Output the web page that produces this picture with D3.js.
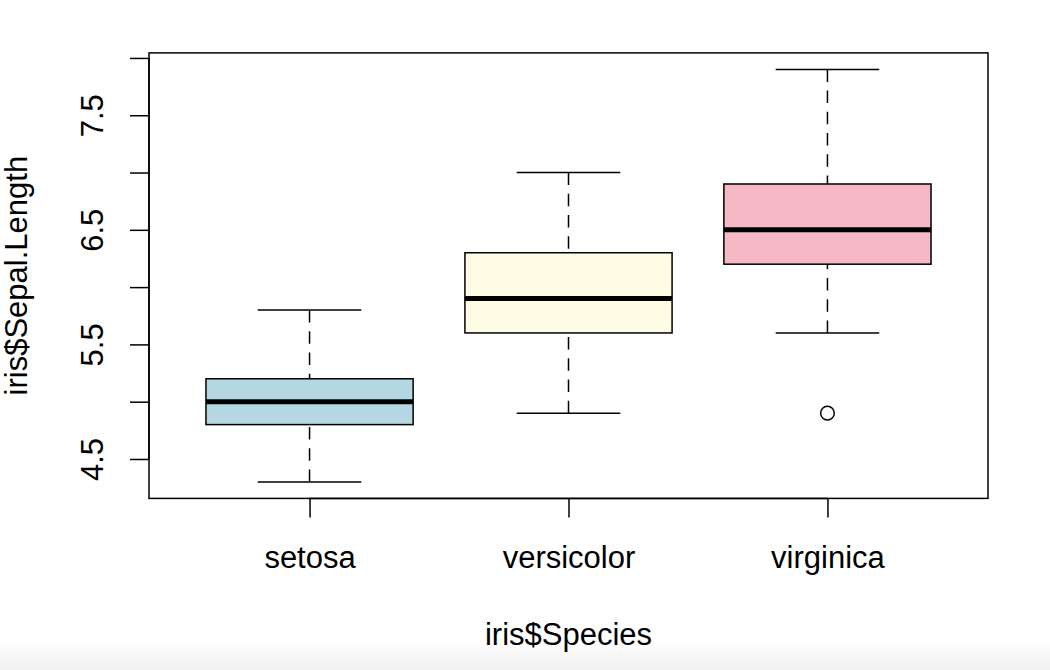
<!DOCTYPE html>
<html>
<head>
<meta charset="utf-8">
<script src="https://cdn.jsdelivr.net/npm/d3@7"></script>
<style>
  html, body { margin: 0; padding: 0; background: #fff; }
  svg { display: block; }
  text { font-family: "Liberation Sans", Arial, Helvetica, sans-serif; fill: #000; }
</style>
</head>
<body>
<svg id="chart" width="1050" height="670"></svg>
<script>
// ---- data (iris Sepal.Length by Species, boxplot stats) ----
const categories = ["setosa", "versicolor", "virginica"];
const lowerWhisker = [4.3, 4.9, 5.6];
const lowerHinge   = [4.8, 5.6, 6.2];
const medians      = [5.0, 5.9, 6.5];
const upperHinge   = [5.2, 6.3, 6.9];
const upperWhisker = [5.8, 7.0, 7.9];
const outliers     = [[], [], [4.9]];
const boxColors    = ["#b4d7e1", "#fffce6", "#f4b9c4"];
const yTicks       = [4.5, 5.0, 5.5, 6.0, 6.5, 7.0, 7.5, 8.0];
const yTickLabels  = ["4.5", "", "5.5", "", "6.5", "", "7.5", ""];
const xTitle = "iris$Species";
const yTitle = "iris$Sepal.Length";

const svg = d3.select("#chart");
const W = 1050, H = 670;

// faint gray band at bottom of the screenshot
const defs = svg.append("defs");
const grad = defs.append("linearGradient").attr("id", "bottomFade")
  .attr("x1", 0).attr("y1", 0).attr("x2", 0).attr("y2", 1);
grad.append("stop").attr("offset", "0%").attr("stop-color", "#ffffff");
grad.append("stop").attr("offset", "100%").attr("stop-color", "#f1f1f1");
svg.append("rect").attr("x", 0).attr("y", 638).attr("width", W).attr("height", 32)
  .attr("fill", "url(#bottomFade)");

const plot = { left: 149, right: 988, top: 52.9, bottom: 498.4 };

// R-style domains: 4% padding
const yMin = d3.min(lowerWhisker.concat(outliers.flat()));
const yMax = d3.max(upperWhisker);
const yPad = (yMax - yMin) * 0.04;
const y = d3.scaleLinear().domain([yMin - yPad, yMax + yPad]).range([plot.bottom, plot.top]);
const xPad = (categories.length) * 0.04;
const x = d3.scaleLinear().domain([0.5 - xPad, categories.length + 0.5 + xPad]).range([plot.left, plot.right]);

const boxHalf = 0.4, capHalf = 0.2;
const lw = 1.5;
const dash = "12.5 8.7";

const g = svg.append("g");

categories.forEach((c, i) => {
  const cx = x(i + 1);
  const bx0 = x(i + 1 - boxHalf), bx1 = x(i + 1 + boxHalf);
  const kx0 = x(i + 1 - capHalf), kx1 = x(i + 1 + capHalf);
  // whiskers (dashed), drawn from whisker end toward hinge as R does
  g.append("line").attr("x1", cx).attr("x2", cx)
    .attr("y1", y(upperWhisker[i])).attr("y2", y(upperHinge[i]))
    .attr("stroke", "#000").attr("stroke-width", lw).attr("stroke-dasharray", dash);
  g.append("line").attr("x1", cx).attr("x2", cx)
    .attr("y1", y(lowerWhisker[i])).attr("y2", y(lowerHinge[i]))
    .attr("stroke", "#000").attr("stroke-width", lw).attr("stroke-dasharray", dash);
  // caps
  g.append("line").attr("x1", kx0).attr("x2", kx1)
    .attr("y1", y(upperWhisker[i])).attr("y2", y(upperWhisker[i]))
    .attr("stroke", "#000").attr("stroke-width", lw);
  g.append("line").attr("x1", kx0).attr("x2", kx1)
    .attr("y1", y(lowerWhisker[i])).attr("y2", y(lowerWhisker[i]))
    .attr("stroke", "#000").attr("stroke-width", lw);
  // box
  g.append("rect").attr("x", bx0).attr("width", bx1 - bx0)
    .attr("y", y(upperHinge[i])).attr("height", y(lowerHinge[i]) - y(upperHinge[i]))
    .attr("fill", boxColors[i]).attr("stroke", "#000").attr("stroke-width", lw);
  // median
  g.append("line").attr("x1", bx0).attr("x2", bx1)
    .attr("y1", y(medians[i])).attr("y2", y(medians[i]))
    .attr("stroke", "#000").attr("stroke-width", 5);
  // outliers
  outliers[i].forEach(v => {
    g.append("circle").attr("cx", cx).attr("cy", y(v)).attr("r", 6.8)
      .attr("fill", "none").attr("stroke", "#000").attr("stroke-width", lw);
  });
});

// plot frame
svg.append("rect").attr("x", plot.left).attr("y", plot.top)
  .attr("width", plot.right - plot.left).attr("height", plot.bottom - plot.top)
  .attr("fill", "none").attr("stroke", "#000").attr("stroke-width", lw);

const fontSize = 31;

// y axis
const yAxis = d3.axisLeft(y).tickValues(yTicks).tickSize(19).tickSizeOuter(0)
  .tickFormat((d, i) => yTickLabels[i]);
const ya = svg.append("g").attr("transform", `translate(${plot.left},0)`).call(yAxis);
ya.select(".domain").attr("d", `M0,${y(yTicks[0])}V${y(yTicks[yTicks.length - 1])}`)
  .attr("stroke", "#000").attr("stroke-width", lw);
ya.selectAll(".tick line").attr("stroke", "#000").attr("stroke-width", lw);
ya.selectAll(".tick text")
  .attr("x", null).attr("dy", null)
  .attr("transform", "translate(-46,0) rotate(-90)")
  .attr("text-anchor", "middle")
  .style("font-size", fontSize + "px")
  .style("font-family", '"Liberation Sans", Arial, Helvetica, sans-serif');

// x axis
const xAxis = d3.axisBottom(x).tickValues(categories.map((c, i) => i + 1))
  .tickSize(19).tickSizeOuter(0).tickFormat((d) => categories[d - 1]);
const xa = svg.append("g").attr("transform", `translate(0,${plot.bottom})`).call(xAxis);
xa.select(".domain").attr("d", `M${x(1)},0H${x(categories.length)}`)
  .attr("stroke", "#000").attr("stroke-width", lw);
xa.selectAll(".tick line").attr("stroke", "#000").attr("stroke-width", lw);
xa.selectAll(".tick text")
  .attr("y", 69.5).attr("dy", null)
  .style("font-size", fontSize + "px")
  .style("font-family", '"Liberation Sans", Arial, Helvetica, sans-serif');

// axis titles
svg.append("text").attr("x", (plot.left + plot.right) / 2).attr("y", 645)
  .attr("text-anchor", "middle").style("font-size", fontSize + "px").text(xTitle);
svg.append("text")
  .attr("transform", `translate(27,${(plot.top + plot.bottom) / 2}) rotate(-90)`)
  .attr("text-anchor", "middle").style("font-size", fontSize + "px").text(yTitle);
</script>
</body>
</html>
